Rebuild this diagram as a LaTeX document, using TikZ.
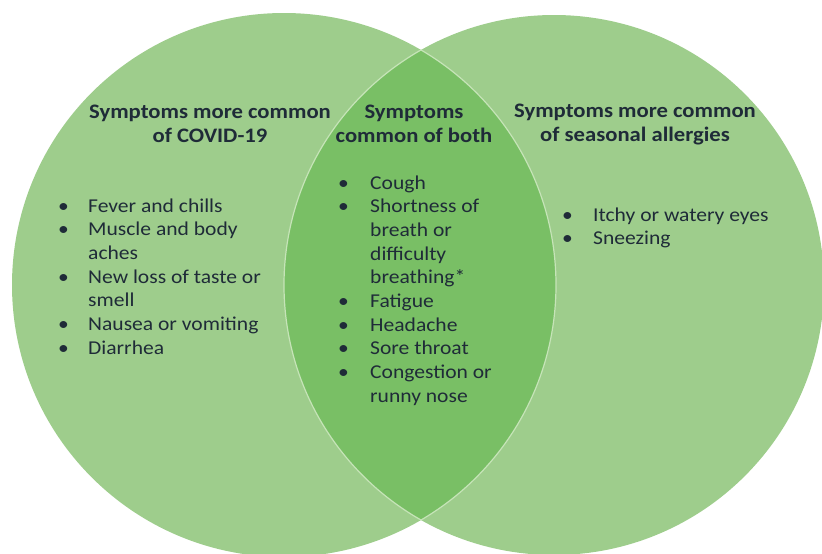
\documentclass[tikz,border=0pt]{standalone}
\usepackage{fontspec}
\setmainfont[FakeStretch=1.1]{Carlito}
\usetikzlibrary{positioning}
\definecolor{VennLight}{HTML}{9ECD8C}
\definecolor{VennDark}{HTML}{79BF65}
\definecolor{VennEdge}{HTML}{C6E4B8}
\definecolor{VennText}{HTML}{1F2B38}

\begin{document}
\begin{tikzpicture}[
      x=1pt,y=-1pt,
      head/.style={font=\fontsize{20.6}{24}\selectfont\bfseries,text=VennText,
        align=center,inner sep=0pt},
      symlist/.style={font=\fontsize{19.6}{23.7}\selectfont,text=VennText,
        inner sep=0pt,anchor=base west}
    ]
      \useasboundingbox (0,0) rectangle (822,554);
      % the two sets
      \fill[VennLight] (284,285) circle (272);
      \fill[VennLight] (554,285) circle (270);
      \begin{scope}
        \clip (284,285) circle (272);
        \fill[VennDark] (554,285) circle (270);
        \draw[VennEdge,line width=1.2pt] (554,285) circle (270);
      \end{scope}
      \begin{scope}
        \clip (554,285) circle (270);
        \draw[VennEdge,line width=1.2pt] (284,285) circle (272);
      \end{scope}
      % headings
      \node[head] (covidhead) at (210,124) {Symptoms more common\\of COVID-19};
      \node[head] (bothhead) at (414,124) {Symptoms\\common of both};
      \node[head] (allerghead) at (635,124) {Symptoms more common\\of seasonal allergies};
      % lists
      \node[symlist] (covidlist) at (58,212) {\begin{tabular}[t]{@{}p{30pt}@{}l@{}}
        \textbullet & Fever and chills\\
        \textbullet & Muscle and body\\
                    & aches\\
        \textbullet & New loss of taste or\\
                    & smell\\
        \textbullet & Nausea or vomiting\\
        \textbullet & Diarrhea
      \end{tabular}};
      \node[symlist] (bothlist) at (338,189) {\begin{tabular}[t]{@{}p{32pt}@{}l@{}}
        \textbullet & Cough\\
        \textbullet & Shortness of\\
                    & breath or\\
                    & difficulty\\
                    & breathing*\\
        \textbullet & Fatigue\\
        \textbullet & Headache\\
        \textbullet & Sore throat\\
        \textbullet & Congestion or\\
                    & runny nose
      \end{tabular}};
      \node[symlist] (allerglist) at (562,221) {\begin{tabular}[t]{@{}p{31pt}@{}l@{}}
        \textbullet & Itchy or watery eyes\\
        \textbullet & Sneezing
      \end{tabular}};
    \end{tikzpicture}
\end{document}
